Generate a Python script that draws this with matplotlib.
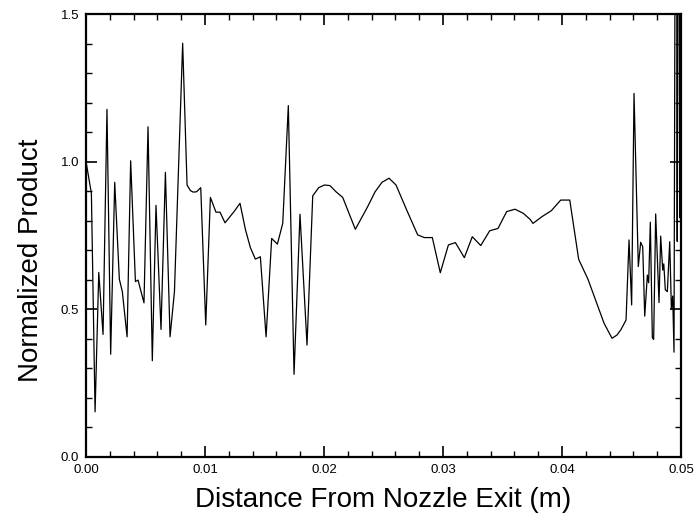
"""
Normalized product along the jet axis.
"""

import matplotlib
matplotlib.use("Agg")
import matplotlib.pyplot as plt
from matplotlib.ticker import MultipleLocator, FormatStrFormatter

plt.rcParams["font.family"] = ["Liberation Sans", "DejaVu Sans"]

# distance from nozzle exit (m)
distance = [
    0.0000, 0.00045, 0.00076, 0.00107, 0.00143, 0.00176, 0.00207, 0.00241,
    0.00280, 0.00305, 0.00345, 0.00375, 0.00415, 0.00437, 0.00487, 0.00521,
    0.00557, 0.00588, 0.00630, 0.00667, 0.00706, 0.00743, 0.00812, 0.00849,
    0.00877, 0.00900, 0.00928, 0.00964, 0.01006, 0.01045, 0.01092, 0.01126,
    0.01168, 0.01244, 0.01294, 0.01339, 0.01381, 0.01423, 0.01465, 0.01513,
    0.01560, 0.01608, 0.01653, 0.01700, 0.01748, 0.01798, 0.01857, 0.01905,
    0.01955, 0.02003, 0.02050, 0.02101, 0.02157, 0.02263, 0.02367, 0.02429,
    0.02487, 0.02546, 0.02605, 0.02695, 0.02787, 0.02843, 0.02910, 0.02977,
    0.03045, 0.03104, 0.03179, 0.03246, 0.03317, 0.03392, 0.03462, 0.03535,
    0.03605, 0.03675, 0.03731, 0.03756, 0.03832, 0.03910, 0.03989, 0.04065,
    0.04140, 0.04218, 0.04353, 0.04420, 0.04462, 0.04496, 0.04538, 0.04563,
    0.04585, 0.04605, 0.04641, 0.04661, 0.04678, 0.04695, 0.04717, 0.04728,
    0.04742, 0.04759, 0.04770, 0.04787, 0.04815, 0.04829, 0.04846, 0.04855,
    0.04868, 0.04885, 0.04905, 0.04919, 0.04930, 0.04941, 0.04958, 0.04968,
    0.04978, 0.04988, 0.04995, 0.05000,
]

# normalized product
product = [
    1.000, 0.893, 0.153, 0.625, 0.415, 1.177, 0.348, 0.930,
    0.602, 0.560, 0.407, 1.003, 0.594, 0.599, 0.522, 1.118,
    0.326, 0.852, 0.432, 0.964, 0.407, 0.560, 1.401, 0.921,
    0.902, 0.897, 0.898, 0.912, 0.447, 0.879, 0.829, 0.829,
    0.793, 0.831, 0.859, 0.771, 0.709, 0.670, 0.678, 0.407,
    0.740, 0.721, 0.791, 1.190, 0.280, 0.822, 0.379, 0.884,
    0.912, 0.921, 0.919, 0.898, 0.879, 0.771, 0.848, 0.898,
    0.930, 0.944, 0.921, 0.836, 0.752, 0.743, 0.743, 0.624,
    0.718, 0.726, 0.675, 0.746, 0.716, 0.766, 0.774, 0.831,
    0.839, 0.825, 0.805, 0.791, 0.814, 0.834, 0.870, 0.870,
    0.669, 0.602, 0.453, 0.402, 0.413, 0.432, 0.464, 0.735,
    0.515, 1.231, 0.645, 0.727, 0.712, 0.477, 0.616, 0.590,
    0.795, 0.404, 0.398, 0.823, 0.523, 0.748, 0.633, 0.654,
    0.566, 0.560, 0.729, 0.500, 0.545, 0.355, 3.000, 0.730,
    3.000, 0.810, 3.000, 0.900,
]

fig = plt.figure(figsize=(7.0, 5.23), dpi=100)
ax = fig.add_axes([0.1229, 0.1262, 0.85, 0.847])

ax.plot(distance, product, color="black", linewidth=0.9)

ax.set_xlim(0, 0.05)
ax.set_ylim(0, 1.5)
ax.xaxis.set_major_locator(MultipleLocator(0.01))
ax.xaxis.set_minor_locator(MultipleLocator(0.002))
ax.yaxis.set_major_locator(MultipleLocator(0.5))
ax.yaxis.set_minor_locator(MultipleLocator(0.1))
ax.xaxis.set_major_formatter(FormatStrFormatter("%.2f"))
ax.yaxis.set_major_formatter(FormatStrFormatter("%.1f"))

ax.tick_params(which="both", direction="in", top=True, right=True, labelsize=9.5)
ax.tick_params(which="major", length=8, width=1.2, pad=5)
ax.tick_params(which="minor", length=4, width=1.0)
for s in ax.spines.values():
    s.set_linewidth(1.6)

ax.set_xlabel("Distance From Nozzle Exit (m)", fontsize=20, labelpad=8)
ax.set_ylabel("Normalized Product", fontsize=20)
ax.yaxis.set_label_coords(-0.07, 0.445)

plt.savefig("out.png", dpi=100)
